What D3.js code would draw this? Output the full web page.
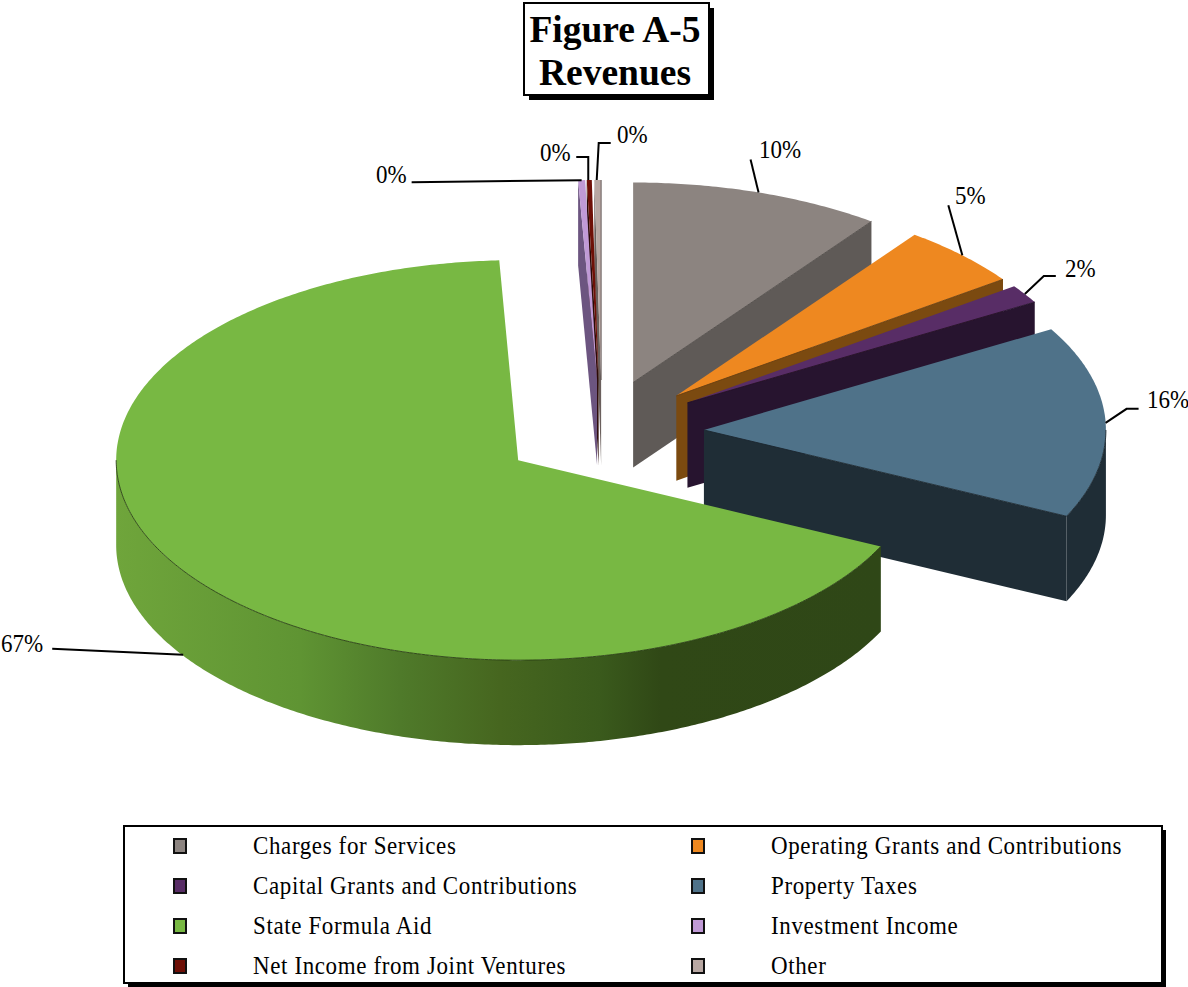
<!DOCTYPE html>
<html>
<head>
<meta charset="utf-8">
<script src="https://cdn.jsdelivr.net/npm/d3@7"></script>
<style>
  html, body { margin: 0; padding: 0; background: #fff; }
  text { font-family: "Liberation Serif", serif; fill: #000; }
</style>
</head>
<body>
<div id="chart"></div>
<script>
const categories = [
  "Charges for Services",
  "Operating Grants and Contributions",
  "Capital Grants and Contributions",
  "Property Taxes",
  "State Formula Aid",
  "Investment Income",
  "Net Income from Joint Ventures",
  "Other"
];
const values = [10.1, 5.0, 1.5, 15.5, 67.15, 0.28, 0.2, 0.27];
const labels = values.map((v) => Math.round(v) + "%");

const topColors = ["#8c8480", "#ee8820", "#582d66", "#4f7289", "#78b843", "#c09ad6", "#6e1007", "#b8a7a2"];
const sideColors = ["#5f5a57", "#7b4a10", "#27142f", "#1f2d36", "#2f4717", "#6c5580", "#2a0a06", "#6a5f5c"];

// drawing setup

const width = 1188;
const height = 987;
const rx = 402;
const ry = 200;
const depth = 85;
const center = [601, 430];
const explodeX = 103;
const explodeY = 50;
const sliceNudge = [[0, 0], [2, 1], [0, 0], [0, 2], [3, 2.5], [0, 0], [0, 0], [1, 0]];

const svg = d3
  .select("#chart")
  .append("svg")
  .attr("width", width)
  .attr("height", height)
  .style("display", "block");

// shaded rim of the big slice

const rimStops = [
  [116, "#6fa53b"],
  [300, "#5f9433"],
  [400, "#4f7a2a"],
  [500, "#46661f"],
  [600, "#3a5a1c"],
  [660, "#304816"],
  [881, "#2f4717"]
];
const gradient = svg
  .append("defs")
  .append("linearGradient")
  .attr("id", "greenRim")
  .attr("gradientUnits", "userSpaceOnUse")
  .attr("x1", 116)
  .attr("x2", 881)
  .attr("y1", 0)
  .attr("y2", 0);
gradient
  .selectAll("stop")
  .data(rimStops)
  .join("stop")
  .attr("offset", (d) => (d[0] - 116) / (881 - 116))
  .attr("stop-color", (d) => d[1]);

// pie layout, clockwise from 12 o'clock

const slices = d3.pie().sort(null)(values).map(function (d, i) {
  const mid = (d.startAngle + d.endAngle) / 2;
  return {
    i: i,
    start: d.startAngle,
    end: d.endAngle,
    mid: mid,
    ax: center[0] + explodeX * Math.sin(mid) + sliceNudge[i][0],
    ay: center[1] - explodeY * Math.cos(mid) + sliceNudge[i][1]
  };
});

function rimPoint(s, angle, drop) {
  return [s.ax + rx * Math.sin(angle), s.ay - ry * Math.cos(angle) + (drop || 0)];
}

function arcPoints(s, a0, a1, drop) {
  const n = Math.max(2, Math.ceil((a1 - a0) / 0.01));
  return d3.range(n + 1).map((k) => rimPoint(s, a0 + ((a1 - a0) * k) / n, drop));
}

const line = d3.line();

function wall(s, angle) {
  const p = rimPoint(s, angle);
  return line([[s.ax, s.ay], p, [p[0], p[1] + depth], [s.ax, s.ay + depth]]) + "Z";
}

function rim(s) {
  const a0 = Math.max(s.start, Math.PI / 2);
  const a1 = Math.min(s.end, (3 * Math.PI) / 2);
  if (a1 <= a0) return null;
  return line(arcPoints(s, a0, a1).concat(arcPoints(s, a0, a1, depth).reverse())) + "Z";
}

function topFace(s) {
  return line([[s.ax, s.ay]].concat(arcPoints(s, s.start, s.end))) + "Z";
}

// only the front edges of a slice get the thin dark line

function frontEdge(s) {
  let d = "";
  if (Math.sin(s.end) > 0) {
    d += line([[s.ax, s.ay], rimPoint(s, s.end)]);
  }
  const a0 = Math.max(s.start, Math.PI / 2);
  const a1 = Math.min(s.end, (3 * Math.PI) / 2);
  if (a1 > a0) {
    d += line(arcPoints(s, a0, a1));
  }
  return d;
}

// back slices first

const order = slices.slice().sort((a, b) => a.ay - b.ay);

const g = svg
  .append("g")
  .selectAll("g")
  .data(order)
  .join("g");

g.each(function (s) {
  const node = d3.select(this);
  const side = s.i === 4 ? "url(#greenRim)" : sideColors[s.i];

  if (Math.sin(s.start) < 0) {
    node.append("path").attr("d", wall(s, s.start)).attr("fill", sideColors[s.i]);
  }
  if (Math.sin(s.end) > 0) {
    node.append("path").attr("d", wall(s, s.end)).attr("fill", sideColors[s.i]);
  }
  const r = rim(s);
  if (r) {
    node.append("path").attr("d", r).attr("fill", side);
  }
  node.append("path").attr("d", topFace(s)).attr("fill", topColors[s.i]);
  node
    .append("path")
    .attr("d", frontEdge(s))
    .attr("fill", "none")
    .attr("stroke", d3.color(sideColors[s.i]).darker(0.4))
    .attr("stroke-width", 0.9);
});

// data labels with leader lines, offsets are from the slice rim

const leaderOffsets = [
  [[-8, -33]],
  [[-14, -50]],
  [[19, -18], [31, -18]],
  [[21, -14], [33, -14]],
  [[-131, -6]],
  [[-170, 2]],
  [[0, -23], [-12, -23]],
  [[2, -37], [14, -37]]
];
const labelPositions = [
  [759, 158], [955, 204], [1065, 277], [1147, 408], [1, 652], [376, 183], [540, 161], [617, 143]
];
const leaderStart = [[0, 0], [0, 0], [0, 0], [0, 1], [0, 84], [0, 0], [-1, 0], [-1, 0]];

slices.forEach(function (s) {
  const p = rimPoint(s, s.mid);
  p[0] += leaderStart[s.i][0];
  p[1] += leaderStart[s.i][1];
  const pts = [p].concat(leaderOffsets[s.i].map((o) => [p[0] + o[0], p[1] + o[1]]));
  svg
    .append("path")
    .attr("d", line(pts))
    .attr("fill", "none")
    .attr("stroke", "#000")
    .attr("stroke-width", 2);
  svg
    .append("text")
    .attr("transform", "translate(" + labelPositions[s.i] + ") scale(1,1.14)")
    .attr("font-size", 23)
    .text(labels[s.i]);
});

// title box

function shadowBox(x, y, w, h, offset) {
  svg.append("rect").attr("x", x + offset).attr("y", y + offset).attr("width", w).attr("height", h).attr("fill", "#000");
  svg.append("rect").attr("x", x).attr("y", y).attr("width", w).attr("height", h).attr("fill", "#fff").attr("stroke", "#000").attr("stroke-width", 2);
}

shadowBox(524, 3, 185, 92, 5);

["Figure A-5", "Revenues"].forEach(function (t, i) {
  svg
    .append("text")
    .attr("x", 615)
    .attr("y", 42 + i * 43)
    .attr("text-anchor", "middle")
    .attr("font-size", 37.5)
    .attr("font-weight", "bold")
    .text(t);
});

// legend

shadowBox(124, 826, 1038, 157, 4);

const rowY = d3.scalePoint().domain([0, 1, 2, 3]).range([846, 966]);
const swatchX = [173, 691];
const textX = [253, 771];

const legend = svg
  .append("g")
  .selectAll("g")
  .data(categories)
  .join("g")
  .attr("transform", (d, i) => "translate(" + [swatchX[i % 2], rowY(Math.floor(i / 2))] + ")");

legend
  .append("rect")
  .attr("x", 1)
  .attr("y", -7)
  .attr("width", 12)
  .attr("height", 14)
  .attr("fill", (d, i) => topColors[i])
  .attr("stroke", "#111")
  .attr("stroke-width", 2);

legend
  .append("text")
  .attr("transform", (d, i) => "translate(" + [textX[i % 2] - swatchX[i % 2], 8] + ") scale(1,1.08)")
  .attr("font-size", 23)
  .attr("letter-spacing", 0.62)
  .text((d) => d);
</script>
</body>
</html>
